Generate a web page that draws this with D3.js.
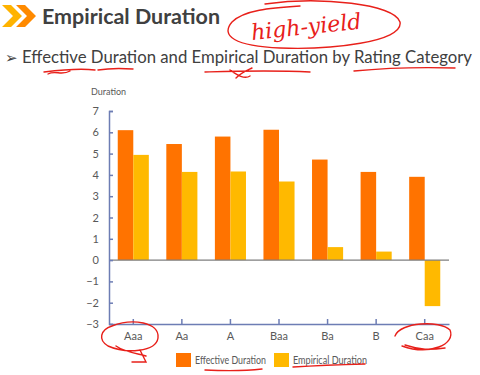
<!DOCTYPE html>
<html>
<head>
<meta charset="utf-8">
<script src="https://cdn.jsdelivr.net/npm/d3@7"></script>
<style>
  body { margin: 0; background: #fff; }
  svg { display: block; font-family: Lato, "Open Sans", sans-serif; }
</style>
</head>
<body>
<div id="plot"></div>
<script>
// chart data
const categories = ["Aaa", "Aa", "A", "Baa", "Ba", "B", "Caa"];
const seriesNames = ["Effective Duration", "Empirical Duration"];
const effective = [6.1, 5.45, 5.8, 6.12, 4.72, 4.14, 3.91];
const empirical = [4.94, 4.14, 4.16, 3.69, 0.61, 0.4, -2.16];
const yTicks = [-3, -2, -1, 0, 1, 2, 3, 4, 5, 6, 7];

const colors = ["#ff7300", "#ffb900"];

const W = 480, H = 375;
const svg = d3.select("#plot").append("svg")
    .attr("width", W)
    .attr("height", H);

// header
const chev = svg.append("g");
chev.append("polygon")
    .attr("points", "2,5 11,5 22,16 11,27 2,27 13,16")
    .attr("fill", "#ffb300");
chev.append("polygon")
    .attr("points", "16,5 25,5 36,16 25,27 16,27 27,16")
    .attr("fill", "#ff8a00");

svg.append("text")
    .attr("x", 42).attr("y", 24)
    .attr("font-size", 21).attr("font-weight", "bold")
    .attr("fill", "#404040")
    .attr("textLength", 178).attr("lengthAdjust", "spacingAndGlyphs")
    .text("Empirical Duration");

svg.append("text")
    .attr("x", 5).attr("y", 63)
    .attr("font-size", 15).attr("fill", "#404040")
    .text("\u27A2");

svg.append("text")
    .attr("x", 22).attr("y", 63)
    .attr("font-size", 17).attr("fill", "#404040")
    .attr("textLength", 450).attr("lengthAdjust", "spacingAndGlyphs")
    .text("Effective Duration and Empirical Duration by Rating Category");

// chart area
const margin = { top: 111, left: 109, right: 31, bottom: 51 };
const width = W - margin.left - margin.right;
const height = H - margin.top - margin.bottom;

const g = svg.append("g")
    .attr("transform", "translate(" + margin.left + "," + margin.top + ")");

const x = d3.scaleBand()
    .domain(categories)
    .range([0, width])
    .paddingInner(0.36)
    .paddingOuter(0.18);

const x1 = d3.scaleBand()
    .domain(seriesNames)
    .range([0, x.bandwidth()]);

const y = d3.scaleLinear()
    .domain([-3, 7])
    .range([height, 0]);

const data = categories.map((c, i) => ({ cat: c, values: [effective[i], empirical[i]] }));

// bars
const groups = g.selectAll(".grp")
    .data(data)
    .enter().append("g")
    .attr("transform", d => "translate(" + x(d.cat) + ",0)");

groups.selectAll("rect")
    .data(d => d.values.map((v, k) => ({ v: v, k: k })))
    .enter().append("rect")
    .attr("x", d => x1(seriesNames[d.k]))
    .attr("width", x1.bandwidth())
    .attr("y", d => y(Math.max(0, d.v)))
    .attr("height", d => Math.abs(y(d.v) - y(0)))
    .attr("fill", d => colors[d.k]);

// zero line
g.append("line")
    .attr("x1", 0).attr("x2", width)
    .attr("y1", y(0)).attr("y2", y(0))
    .attr("stroke", "#7f7f7f").attr("stroke-width", 1.2);

// y axis
const yAxis = g.append("g")
    .call(d3.axisLeft(y).tickValues(yTicks).tickSize(-4).tickPadding(10));
yAxis.select(".domain").attr("stroke", "#6d7db4").attr("stroke-width", 1.5);
yAxis.selectAll(".tick line").attr("stroke", "#6d7db4").attr("stroke-width", 1.5);
yAxis.selectAll(".tick text")
    .attr("font-size", 11).attr("fill", "#595959")
    .attr("font-family", "Lato, sans-serif");

// x axis at bottom
const xAxis = g.append("g")
    .attr("transform", "translate(0," + height + ")")
    .call(d3.axisBottom(x).tickSize(-5).tickPadding(8).tickSizeOuter(0));
xAxis.select(".domain").attr("stroke", "#6d7db4").attr("stroke-width", 1.5);
xAxis.selectAll(".tick line").attr("stroke", "#6d7db4").attr("stroke-width", 1.5);
xAxis.selectAll(".tick text")
    .attr("font-size", 11).attr("fill", "#595959")
    .attr("font-family", "Lato, sans-serif");

svg.append("text")
    .attr("x", 91).attr("y", 95)
    .attr("font-size", 9).attr("fill", "#595959")
    .text("Duration");

// legend
const legendX = [176, 274];
const legendW = [71, 74];
const legend = svg.selectAll(".leg")
    .data(seriesNames)
    .enter().append("g")
    .attr("transform", (d, i) => "translate(" + legendX[i] + ",353)");
legend.append("rect")
    .attr("width", 15).attr("height", 14)
    .attr("fill", (d, i) => colors[i]);
legend.append("text")
    .attr("x", 19).attr("y", 10.5)
    .attr("font-size", 10.5).attr("fill", "#595959")
    .attr("textLength", (d, i) => legendW[i]).attr("lengthAdjust", "spacingAndGlyphs")
    .text(d => d);

// handwritten red annotations
const ink = svg.append("g")
    .attr("fill", "none").attr("stroke", "#e8201a")
    .attr("stroke-width", 1.4).attr("stroke-linecap", "round");
ink.append("path")
    .attr("d", "M265,4 C320,-4 395,4 400,22 C404,42 330,50 280,48 C235,46 220,36 232,22 C244,10 270,8 300,6");
ink.append("path")
    .attr("d", "M44,72 C60,70 80,68 95,70 M48,74 C55,70 62,76 70,71 M98,70 C104,69 120,68 133,69");
ink.append("path")
    .attr("d", "M205,72 C240,71 270,70 310,72 M230,70 C236,74 244,80 250,76 M236,78 C242,72 248,70 252,68");
ink.append("path")
    .attr("d", "M354,71 C385,68 420,67 455,68");
ink.append("path")
    .attr("d", "M112,326 C132,318 160,322 158,338 C156,352 126,354 108,346 C98,340 100,330 112,326 M116,346 C124,352 140,354 146,356 M140,350 L146,362 L132,362");
ink.append("path")
    .attr("d", "M395,336 C400,322 440,320 450,330 C456,344 430,356 402,346 M405,345 C420,350 430,350 445,348");
ink.append("path")
    .attr("d", "M205,370 C225,371 245,371 262,369 M293,367 C310,366 330,365 365,364");
ink.append("text")
    .attr("x", 252).attr("y", 40)
    .attr("font-size", 22).attr("font-style", "italic")
    .attr("fill", "#e8201a").attr("stroke", "none")
    .attr("font-family", "DejaVu Serif, serif")
    .attr("transform", "rotate(-6,252,40)")
    .text("high-yield");
</script>
</body>
</html>
